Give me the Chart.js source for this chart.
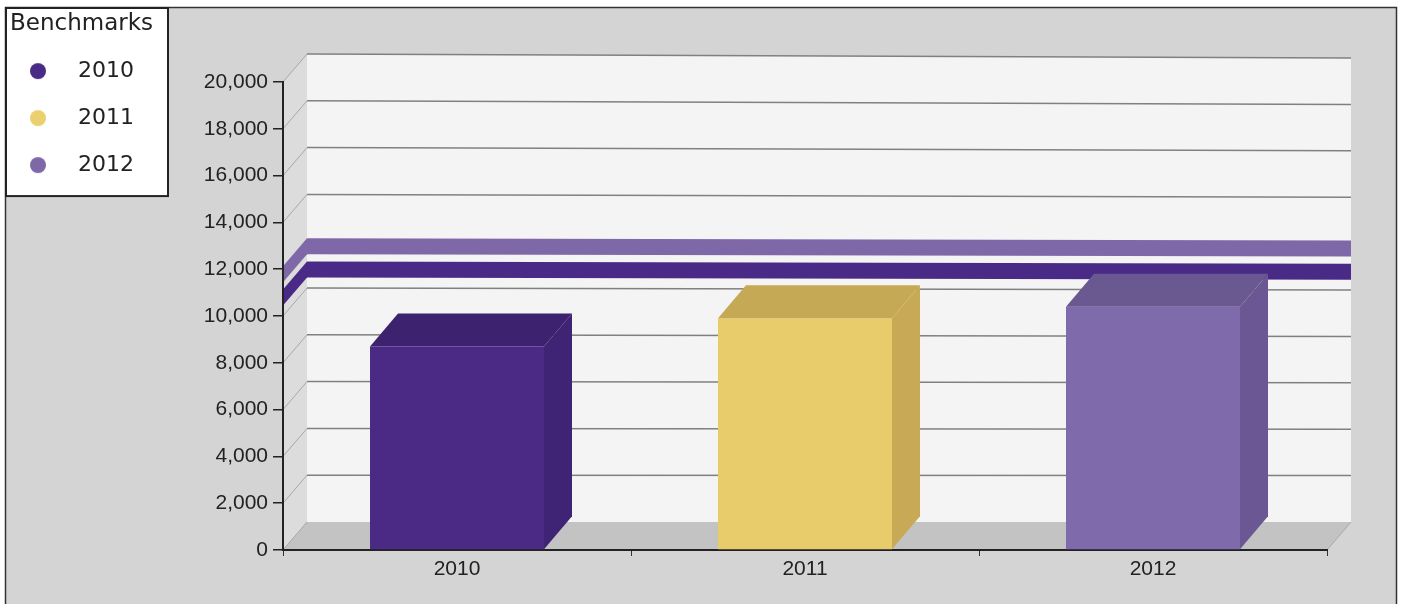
<!DOCTYPE html>
<html>
<head>
<meta charset="utf-8">
<script src="https://cdn.jsdelivr.net/npm/chart.js@4.4.1/dist/chart.umd.min.js"></script>
<style>
  html, body { margin: 0; padding: 0; background: #fff; }
  #wrap { width: 1403px; height: 604px; }
</style>
</head>
<body>
<div id="wrap"><canvas id="chart" width="1403" height="604"></canvas></div>
<script>
const categories = ["2010", "2011", "2012"];
const values = [8700, 9900, 10400];
const benchmarkLabels = ["2010", "2011", "2012"];
const benchmarkValues = [11000, null, 12000];
const yTicks = [0, 2000, 4000, 6000, 8000, 10000, 12000, 14000, 16000, 18000, 20000];

const frontColors = ["#4b2a85", "#e8cb6a", "#7f6aab"];
const topColors = ["#3d2270", "#c6a955", "#6a5890"];
const sideColors = ["#3f2375", "#c8aa56", "#6b5793"];
const benchmarkColors = ["#4a2a87", "#ead06f", "#7f68a8"];

const WALL = { dx: 24, dy: -28, skew: 4 };
const BAR = { dx: 28, dy: -33 };

// legend dot drawn left inside a wider image so the text sits further right
function makeDot(color) {
  const c = document.createElement("canvas");
  c.width = 44; c.height = 20;
  const g = c.getContext("2d");
  g.fillStyle = color;
  g.beginPath();
  g.arc(9, 10, 8, 0, Math.PI * 2);
  g.fill();
  return c;
}
const dots = benchmarkColors.map(makeDot);

function poly(ctx, pts, fill) {
  ctx.beginPath();
  ctx.moveTo(pts[0][0], pts[0][1]);
  pts.slice(1).forEach(p => ctx.lineTo(p[0], p[1]));
  ctx.closePath();
  ctx.fillStyle = fill;
  ctx.fill();
}

const threeD = {
  id: "threeD",
  afterLayout(chart) {
    const lg = chart.legend;
    if (!lg) return;
    const h = lg.height;
    lg.width = 158;
    lg.left = 10; lg.right = 168;
    lg.top = 6; lg.bottom = 6 + h;
  },
  beforeDraw(chart) {
    const { ctx, chartArea: a, scales: { y } } = chart;
    const { dx, dy, skew } = WALL;
    const L = a.left + dx, R = a.right + dx, T = a.top + dy, B = a.bottom + dy;
    const skewAt = py => skew * (a.bottom - py) / (a.bottom - a.top);
    ctx.save();
    ctx.fillStyle = "#fff";
    ctx.fillRect(0, 0, chart.width, chart.height);
    ctx.fillStyle = "#d4d4d4";
    ctx.fillRect(5, 7, 1392, chart.height);
    ctx.strokeStyle = "#333";
    ctx.lineWidth = 1.5;
    ctx.strokeRect(5.5, 7.5, 1391, chart.height + 10);

    // walls and floor
    poly(ctx, [[L, T], [R, T + skew], [R, B], [L, B]], "#f4f4f4");
    poly(ctx, [[a.left, a.top], [L, T], [L, B], [a.left, a.bottom]], "#dcdcdc");
    poly(ctx, [[a.left, a.bottom], [L, B], [R, B], [a.right, a.bottom]], "#c3c3c3");
    ctx.strokeStyle = "#aaa";
    ctx.lineWidth = 1;
    ctx.beginPath();
    ctx.moveTo(a.right, a.bottom); ctx.lineTo(R, B);
    ctx.stroke();

    // grid on side and back wall
    y.ticks.forEach(t => {
      const py = y.getPixelForValue(t.value);
      ctx.strokeStyle = "#a8a8a8";
      ctx.lineWidth = 1;
      ctx.beginPath();
      ctx.moveTo(a.left, py); ctx.lineTo(L, py + dy);
      ctx.stroke();
      if (t.value === 0) return;
      ctx.strokeStyle = "#808080";
      ctx.lineWidth = 1.5;
      ctx.beginPath();
      ctx.moveTo(L, py + dy); ctx.lineTo(R, py + dy + skewAt(py));
      ctx.stroke();
    });

    // benchmark bands
    benchmarkValues.forEach((v, i) => {
      if (v == null) return;
      const py = y.getPixelForValue(v);
      const s = skewAt(py);
      const col = benchmarkColors[i];
      poly(ctx, [[L, py + dy - 3], [R, py + dy - 3 + s], [R, py + dy + 13 + s], [L, py + dy + 13]], col);
      poly(ctx, [[a.left, py - 3], [L, py + dy - 3], [L, py + dy + 13], [a.left, py + 13]], col);
    });

    // legend frame
    const lg = chart.legend;
    const hb = lg.legendHitBoxes;
    const last = hb[hb.length - 1];
    const boxBottom = last.top + last.height + 20;
    ctx.fillStyle = "#fff";
    ctx.fillRect(5, 7, 163, boxBottom - 7);
    ctx.strokeStyle = "#222";
    ctx.lineWidth = 2;
    ctx.strokeRect(6, 8, 162, boxBottom - 8);
    ctx.restore();
  },
  afterDatasetsDraw(chart) {
    const { ctx } = chart;
    const meta = chart.getDatasetMeta(0);
    ctx.save();
    meta.data.forEach((bar, i) => {
      const { x, y, base, width } = bar.getProps(["x", "y", "base", "width"], true);
      const x0 = x - width / 2, x1 = x + width / 2;
      poly(ctx, [[x0, y], [x0 + BAR.dx, y + BAR.dy], [x1 + BAR.dx, y + BAR.dy], [x1, y]], topColors[i]);
      poly(ctx, [[x1, y], [x1 + BAR.dx, y + BAR.dy], [x1 + BAR.dx, base + BAR.dy], [x1, base]], sideColors[i]);
    });
    ctx.restore();
  }
};

const tickFont = { family: "'Liberation Sans', Arial, sans-serif", size: 21 };
const legendFont = { family: "'DejaVu Sans', sans-serif", size: 22 };

new Chart(document.getElementById("chart"), {
  type: "bar",
  data: {
    labels: categories,
    datasets: [{
      label: "Values",
      data: values,
      backgroundColor: frontColors,
      borderWidth: 0,
      barPercentage: 0.5,
      categoryPercentage: 1
    }]
  },
  options: {
    responsive: false,
    animation: false,
    layout: { padding: { left: 5, top: 82, right: 76, bottom: 14 } },
    plugins: {
      tooltip: { enabled: false },
      legend: {
        position: "left",
        align: "start",
        onClick: () => {},
        title: {
          display: true,
          text: "Benchmarks",
          position: "start",
          color: "#222",
          font: { family: legendFont.family, size: 23, lineHeight: 0.96 },
          padding: { top: 7, bottom: 0 }
        },
        labels: {
          usePointStyle: true,
          pointStyleWidth: 32,
          padding: 25,
          color: "#222",
          font: legendFont,
          generateLabels: () => benchmarkLabels.map((t, i) => ({
            text: t,
            fillStyle: benchmarkColors[i],
            strokeStyle: benchmarkColors[i],
            lineWidth: 0,
            pointStyle: dots[i],
            hidden: false,
            index: i
          }))
        }
      }
    },
    scales: {
      x: {
        grid: { display: true, drawOnChartArea: false, tickLength: 6, color: "#333", offset: true },
        border: { display: true, color: "#222", width: 2 },
        ticks: { color: "#222", font: tickFont, padding: 1 },
        afterFit: s => { s.height = 40; }
      },
      y: {
        min: 0,
        max: 20000,
        afterBuildTicks: s => { s.ticks = yTicks.map(v => ({ value: v })); },
        ticks: { color: "#222", font: tickFont, padding: 5, callback: v => v.toLocaleString("en-US") },
        grid: { drawOnChartArea: false, tickLength: 10, color: "#222", lineWidth: 1.5 },
        border: { display: true, color: "#222", width: 2 },
        afterFit: s => {
          const lw = s.chart.legend ? s.chart.legend.width : 0;
          s.width = 283 - 5 - lw;
        }
      }
    }
  },
  plugins: [threeD]
});
</script>
</body>
</html>
